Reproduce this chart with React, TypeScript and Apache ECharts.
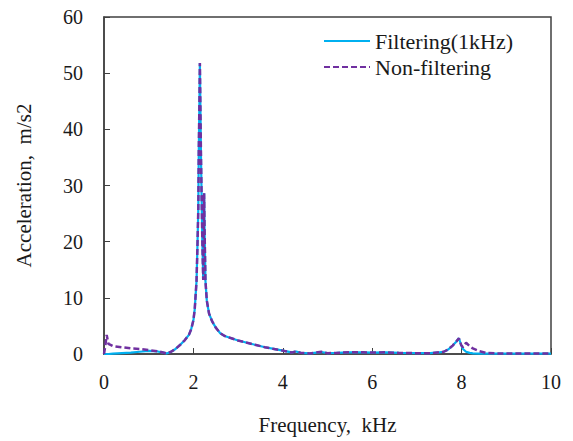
import React, { useEffect, useRef } from "react";
import * as echarts from "echarts";

// Frequency samples (kHz) shared by both spectra
const frequency = [
  0, 0.03, 0.06, 0.1, 0.2, 0.4, 0.6, 0.8, 1.0, 1.2, 1.3, 1.4, 1.5, 1.6, 1.7, 1.8,
  1.9, 1.95, 2.0, 2.03, 2.07, 2.09, 2.11, 2.12, 2.135, 2.145, 2.17, 2.2, 2.22,
  2.24, 2.25, 2.27, 2.3, 2.35, 2.42, 2.5, 2.6, 2.7, 2.85, 3.0, 3.2, 3.4, 3.6, 3.8,
  4.0, 4.2, 4.3, 4.4, 4.6, 4.86, 5.0, 5.2, 5.5, 5.8, 6.0, 6.3, 6.6, 7.0, 7.3, 7.5,
  7.6, 7.7, 7.8, 7.88, 7.94, 7.99, 8.03, 8.1, 8.18, 8.25, 8.4, 8.55, 8.8, 9.2,
  9.6, 10,
];

// Acceleration amplitude (m/s2) after 1 kHz filtering
const filtered = [
  0, 0, 0, 0, 0.05, 0.15, 0.25, 0.4, 0.55, 0.45, 0.3, 0.1, 0.4, 0.9, 1.6, 2.4,
  3.4, 4.4, 6.0, 8.0, 13.0, 19.0, 26.0, 36.0, 45.0, 51.8, 35.0, 20.0, 13.2,
  28.6, 22.0, 13.0, 9.5, 7.2, 5.8, 4.7, 3.7, 3.2, 2.8, 2.4, 2.0, 1.6, 1.2, 0.9,
  0.6, 0.3, 0.45, 0.2, 0.1, 0.35, 0.15, 0.2, 0.3, 0.3, 0.25, 0.3, 0.2, 0.15, 0.15,
  0.3, 0.4, 0.8, 1.5, 2.2, 2.8, 1.6, 0.9, 0.4, 0.2, 0.1, 0.05, 0.05, 0.05, 0.05,
  0.05, 0.05,
];

// Acceleration amplitude (m/s2) of the raw signal
const nonFiltered = [
  0, 1.5, 3.4, 1.8, 1.4, 1.2, 1.0, 0.9, 0.7, 0.5, 0.3, 0.1, 0.4, 0.9, 1.6, 2.4,
  3.4, 4.4, 6.0, 8.0, 13.0, 19.0, 26.0, 36.0, 45.0, 51.8, 35.0, 20.0, 13.2,
  28.6, 22.0, 13.0, 9.5, 7.2, 5.8, 4.7, 3.7, 3.2, 2.8, 2.4, 2.0, 1.6, 1.2, 0.9,
  0.6, 0.25, 0.5, 0.2, 0.1, 0.4, 0.15, 0.2, 0.3, 0.3, 0.25, 0.3, 0.2, 0.15, 0.15,
  0.3, 0.4, 0.8, 1.5, 2.2, 2.8, 1.6, 1.2, 2.0, 1.4, 1.0, 0.5, 0.2, 0.1, 0.1,
  0.1, 0.1,
];

const xTicks = [0, 2, 4, 6, 8, 10];
const yTicks = [0, 10, 20, 30, 40, 50, 60];

const FONT = "Liberation Serif, Times New Roman, serif";
const TEXT = "#1a1a1a";
const AXIS = "#404040";

export default function App() {
  const ref = useRef<HTMLDivElement>(null);

  useEffect(() => {
    if (!ref.current) return;
    const chart = echarts.init(ref.current, undefined, { renderer: "svg" });

    const pairs = (vals: number[]) => frequency.map((f, i) => [f, vals[i]]);

    chart.setOption({
      animation: false,
      backgroundColor: "#ffffff",
      textStyle: { fontFamily: FONT, color: TEXT },
      grid: {
        left: 104,
        right: 22,
        top: 17,
        bottom: 87,
        outerBoundsMode: "none",
        containLabel: false,
        show: true,
        borderColor: AXIS,
        borderWidth: 1.5,
      },
      legend: {
        orient: "vertical",
        left: 318,
        top: 25,
        itemWidth: 46,
        itemHeight: 14,
        itemGap: 4,
        itemStyle: { opacity: 0 },
        textStyle: { fontFamily: FONT, fontSize: 22, color: TEXT },
        data: ["Filtering(1kHz)", "Non-filtering"],
      },
      xAxis: {
        type: "value",
        min: xTicks[0],
        max: xTicks[xTicks.length - 1],
        interval: 2,
        name: "Frequency,  kHz",
        nameLocation: "middle",
        nameGap: 60,
        nameTextStyle: { fontFamily: FONT, fontSize: 21, color: TEXT },
        axisLine: { lineStyle: { color: AXIS, width: 1.5 } },
        axisTick: { inside: true, length: 6, lineStyle: { color: AXIS } },
        axisLabel: { fontFamily: FONT, fontSize: 20, color: TEXT, margin: 18 },
        splitLine: { show: false },
      },
      yAxis: {
        type: "value",
        min: yTicks[0],
        max: yTicks[yTicks.length - 1],
        interval: 10,
        name: "Acceleration,  m/s2",
        nameLocation: "middle",
        nameGap: 70,
        nameTextStyle: { fontFamily: FONT, fontSize: 21, color: TEXT },
        axisLine: { show: true, lineStyle: { color: AXIS, width: 1.5 } },
        axisTick: { show: true, inside: true, length: 6, lineStyle: { color: AXIS } },
        axisLabel: { fontFamily: FONT, fontSize: 20, color: TEXT, margin: 21 },
        splitLine: { show: false },
      },
      series: [
        {
          name: "Filtering(1kHz)",
          type: "line",
          data: pairs(filtered),
          symbol: "none",
          lineStyle: { color: "#00B0F0", width: 2.2 },
          itemStyle: { color: "#00B0F0" },
          z: 2,
        },
        {
          name: "Non-filtering",
          type: "line",
          data: pairs(nonFiltered),
          symbol: "none",
          lineStyle: { color: "#7030A0", width: 2.5, type: [6, 3] },
          itemStyle: { color: "#7030A0" },
          z: 3,
        },
      ],
    });

    return () => chart.dispose();
  }, []);

  return (
    <div
      ref={ref}
      style={{ position: "absolute", left: 0, top: 0, width: 573, height: 441 }}
    />
  );
}
